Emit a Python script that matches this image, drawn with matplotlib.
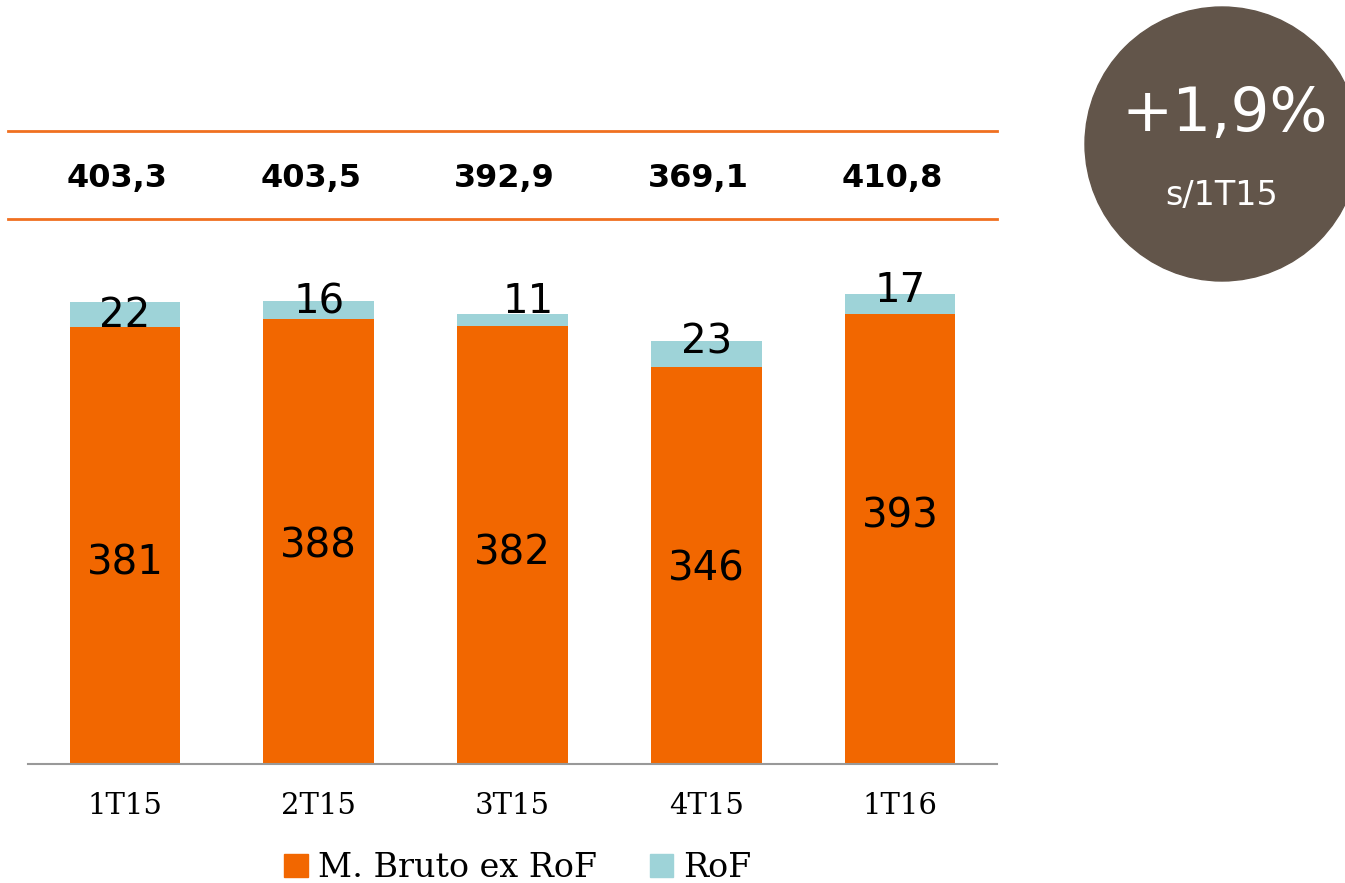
import matplotlib.pyplot as plt
from matplotlib.patches import Circle, Patch
from matplotlib.lines import Line2D

quarters = ["1T15", "2T15", "3T15", "4T15", "1T16"]
bruto_ex_rof = [381, 388, 382, 346, 393]
rof = [22, 16, 11, 23, 17]
totals = ["403,3", "403,5", "392,9", "369,1", "410,8"]

ORANGE = "#F26700"
TEAL = "#9ED3D8"
BROWN = "#62554A"

plt.rcParams['font.family'] = ['DejaVu Sans']

fig = plt.figure(figsize=(13.45, 8.83), dpi=100)
W, H = 1345, 883

# background axes in pixel coordinates for the rules, totals and bubble
cax = fig.add_axes([0, 0, 1, 1], zorder=-1)
cax.set_xlim(0, W)
cax.set_ylim(H, 0)
cax.axis("off")

ax = fig.add_axes([28 / W, (H - 764) / H, 969 / W, 573 / H])
ax.patch.set_visible(False)

x = list(range(len(quarters)))
ax.bar(x, bruto_ex_rof, width=0.57, color=ORANGE, zorder=2)
ax.bar(x, rof, width=0.57, bottom=bruto_ex_rof, color=TEAL, zorder=2)

# label placement tweaks (fraction of bar height / offset above bar top)
mid_frac = [0.46, 0.49, 0.48, 0.49, 0.55]
top_off = [-12, -1, 10, -1, 3]
for i in x:
    ax.text(i, bruto_ex_rof[i] * mid_frac[i], str(bruto_ex_rof[i]), ha="center", va="center",
            fontsize=29, color="black")
    ax.text(i + (0.08 if i == 2 else 0), bruto_ex_rof[i] + rof[i] + top_off[i], str(rof[i]),
            ha="center", va="center", fontsize=29, color="black")

ax.set_xlim(-0.5, 4.5)
ax.set_ylim(0, 500)
ax.set_xticks(x)
ax.set_xticklabels(quarters, fontsize=21, family="DejaVu Serif")
ax.tick_params(axis="x", length=0, pad=20)
ax.set_yticks([])
for s in ["top", "right", "left"]:
    ax.spines[s].set_visible(False)
ax.spines["bottom"].set_color("#999999")
ax.spines["bottom"].set_linewidth(1.5)

# table of totals between orange rules
for yy in (131, 219):
    cax.add_line(Line2D([8, 997], [yy, yy], color="#F07020", lw=2))
for i, t in enumerate(totals):
    xp = 28 + 969 * (i + 0.5) / 5 - 8
    cax.text(xp, 179, t, ha="center", va="center", fontsize=23, fontweight="bold")

# growth bubble
cax.add_patch(Circle((1222, 144), 137, color=BROWN))
cax.text(1225, 115, "+1,9%", ha="center", va="center", fontsize=44, color="white")
cax.text(1222, 195, "s/1T15", ha="center", va="center", fontsize=24, color="white")

handles = [Patch(color=ORANGE, label="M. Bruto ex RoF"), Patch(color=TEAL, label="RoF")]
fig.legend(handles=handles, loc="center", bbox_to_anchor=(518 / W, 1 - 868 / H), ncol=2,
           frameon=False, prop={"family": "DejaVu Serif", "size": 24},
           handlelength=0.7, handleheight=0.7, handletextpad=0.3, columnspacing=1.6)

fig.savefig("out.png", dpi=100)
